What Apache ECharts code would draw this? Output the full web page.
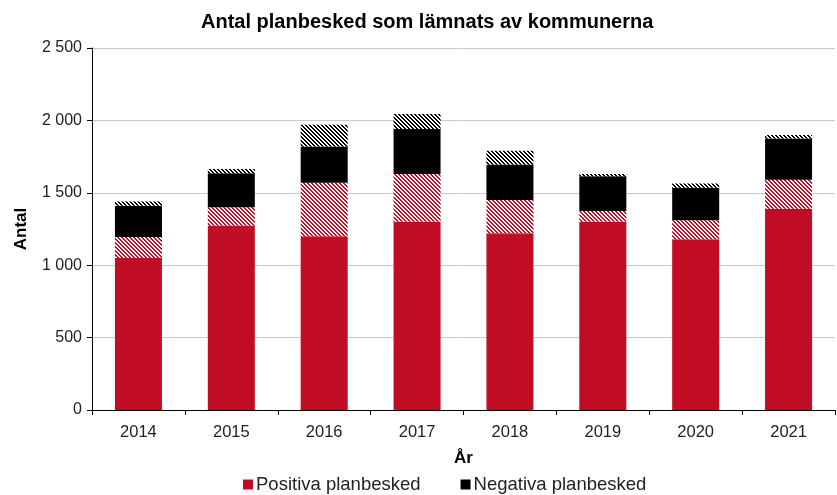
<!DOCTYPE html>
<html>
<head>
<meta charset="utf-8">
<script src="https://cdn.jsdelivr.net/npm/echarts@6/dist/echarts.min.js"></script>
<style>
  html, body { margin: 0; padding: 0; background: #fff; }
  #chart { width: 837px; height: 495px; }
</style>
</head>
<body>
<div id="chart"></div>
<script>
// data
var years = ['2014', '2015', '2016', '2017', '2018', '2019', '2020', '2021'];
var posSolid = [1050, 1275, 1200, 1300, 1220, 1300, 1180, 1390];
var posHatch = [145, 125, 370, 330, 230, 75, 130, 200];
var negSolid = [215, 235, 250, 310, 245, 240, 225, 285];
var negHatch = [30, 30, 150, 105, 95, 15, 30, 25];

var RED = '#c00c25';

// small diagonal stripe pattern
function stripes(color) {
    var c = document.createElement('canvas');
    c.width = 4; c.height = 4;
    var ctx = c.getContext('2d');
    ctx.fillStyle = '#fff';
    ctx.fillRect(0, 0, 4, 4);
    ctx.fillStyle = color;
    for (var y = 0; y < 4; y++) {
        for (var x = 0; x < 4; x++) {
            var d = ((x - y) % 4 + 4) % 4;
            if (d === 0 || d === 1) ctx.fillRect(x, y, 1, 1);
        }
    }
    return { image: c, repeat: 'repeat' };
}

function fmt(v) {
    return String(v).replace(/\B(?=(\d{3})+(?!\d))/g, ' ');
}

var chart = echarts.init(document.getElementById('chart'), null, { renderer: 'canvas' });
var font = 'Liberation Sans, Arial, sans-serif';

var option = {
    animation: false,
    textStyle: { fontFamily: font },
    title: {
        text: 'Antal planbesked som lämnats av kommunerna',
        left: 196,
        top: 7,
        textStyle: { fontSize: 20, fontWeight: 'bold', color: '#000', fontFamily: font }
    },
    legend: {
        top: 470,
        left: 238,
        itemWidth: 10,
        itemHeight: 10,
        itemGap: 40,
        icon: 'rect',
        data: ['Positiva planbesked', 'Negativa planbesked'],
        textStyle: { fontSize: 18.5, color: '#222', fontFamily: font, padding: [0, 0, 0, -2] }
    },
    grid: { left: 92, right: 2, top: 48, bottom: 85, containLabel: false },
    xAxis: {
        type: 'category',
        data: years,
        name: 'År',
        nameLocation: 'middle',
        nameGap: 40,
        nameTextStyle: { fontSize: 17, fontWeight: 'bold', color: '#000' },
        axisLine: { lineStyle: { color: '#000', width: 1 } },
        axisTick: { show: true, length: 5, lineStyle: { color: '#000' } },
        axisLabel: { fontSize: 16.5, color: '#222', margin: 14 }
    },
    yAxis: {
        type: 'value',
        min: 0,
        max: 2500,
        interval: 500,
        name: 'Antal',
        nameLocation: 'middle',
        nameGap: 62,
        nameTextStyle: { fontSize: 17, fontWeight: 'bold', color: '#000' },
        axisLine: { show: true, lineStyle: { color: '#000', width: 1 } },
        axisTick: { show: true, length: 5, lineStyle: { color: '#000' } },
        axisLabel: { fontSize: 16, color: '#222', margin: 10, formatter: fmt },
        splitLine: { lineStyle: { color: '#c8c8c8', width: 1 } }
    },
    series: [
        { name: 'Positiva planbesked', type: 'bar', stack: 'a', data: posSolid,
          barWidth: 47, itemStyle: { color: RED } },
        { name: 'Positiva (streckad)', type: 'bar', stack: 'a', data: posHatch,
          itemStyle: { color: stripes(RED) } },
        { name: 'Negativa planbesked', type: 'bar', stack: 'a', data: negSolid,
          itemStyle: { color: '#000' } },
        { name: 'Negativa (streckad)', type: 'bar', stack: 'a', data: negHatch,
          itemStyle: { color: stripes('#000') } }
    ]
};
chart.setOption(option);
</script>
</body>
</html>
